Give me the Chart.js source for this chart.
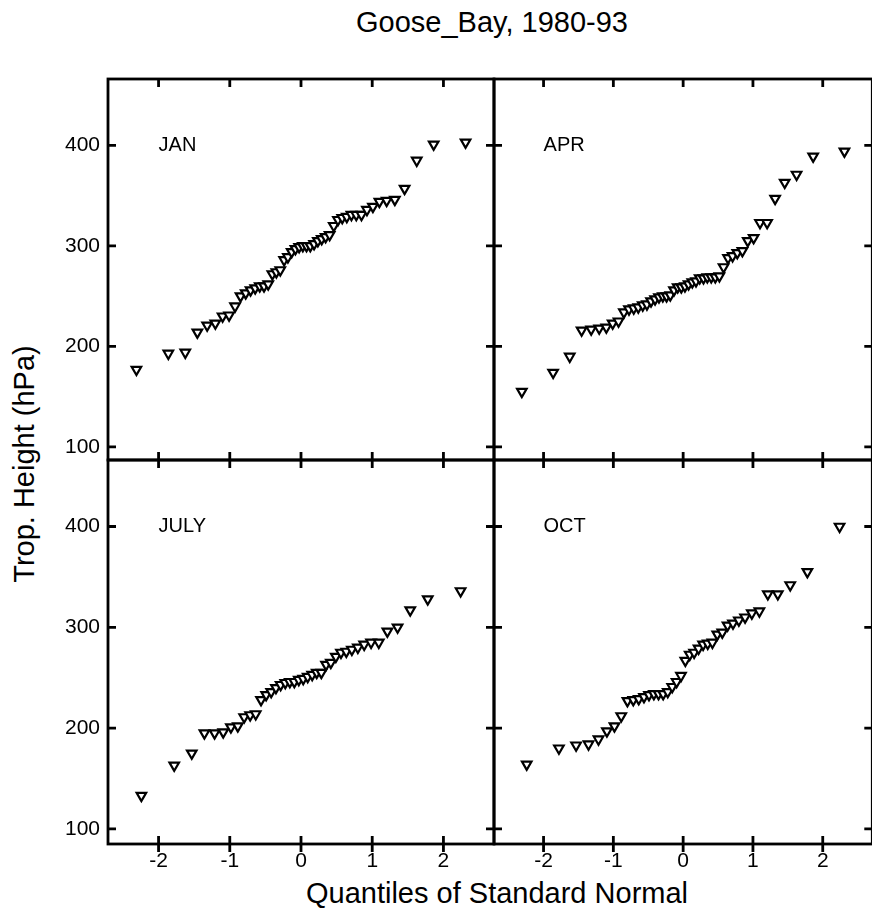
<!DOCTYPE html>
<html>
<head>
<meta charset="utf-8">
<script src="https://cdn.jsdelivr.net/npm/chart.js@4.4.0/dist/chart.umd.min.js"></script>
<style>
  html, body { margin: 0; padding: 0; background: #fff; }
  #page { position: relative; width: 872px; height: 908px; overflow: hidden;
          font-family: "Liberation Sans", Arial, sans-serif; color: #000; }
  canvas { position: absolute; }
  .title { position: absolute; white-space: nowrap; font-size: 29px;
           transform: translate(-50%, -50%); }
  #mainTitle { left: 492px; top: 22px; }
  #xTitle { left: 497px; top: 893px; }
  #yTitle { left: 24px; top: 464px; transform: translate(-50%, -50%) rotate(-90deg); }
</style>
</head>
<body>
<div id="page">
  <div class="title" id="mainTitle">Goose_Bay, 1980-93</div>
  <div class="title" id="xTitle">Quantiles of Standard Normal</div>
  <div class="title" id="yTitle">Trop. Height (hPa)</div>
  <canvas id="janChart" width="504" height="400" style="left:0;top:70px"></canvas>
  <canvas id="aprChart" width="396" height="400" style="left:484px;top:70px"></canvas>
  <canvas id="julChart" width="504" height="458" style="left:0;top:450px"></canvas>
  <canvas id="octChart" width="396" height="458" style="left:484px;top:450px"></canvas>
</div>
<script>
// normal quantiles on the x axis
const quantiles48 = [-2.311, -1.863, -1.625, -1.455, -1.318, -1.203, -1.101, -1.010, -0.926, -0.849,
    -0.776, -0.708, -0.643, -0.579, -0.519, -0.460, -0.402, -0.346, -0.291, -0.237, -0.184, -0.131,
    -0.078, -0.026, 0.026, 0.078, 0.131, 0.184, 0.237, 0.291, 0.346, 0.402, 0.460, 0.519, 0.579,
    0.643, 0.708, 0.776, 0.849, 0.926, 1.010, 1.101, 1.203, 1.318, 1.455, 1.625, 1.863, 2.311];
const quantiles40 = [-2.241, -1.780, -1.534, -1.356, -1.213, -1.092, -0.984, -0.887, -0.798, -0.714,
    -0.636, -0.561, -0.489, -0.419, -0.352, -0.286, -0.221, -0.157, -0.094, -0.031, 0.031, 0.094,
    0.157, 0.221, 0.286, 0.352, 0.419, 0.489, 0.561, 0.636, 0.714, 0.798, 0.887, 0.984, 1.092,
    1.213, 1.356, 1.534, 1.780, 2.241];

// tropopause heights (hPa)
const janHeights = [177, 193, 194, 214, 221, 223, 230, 231, 240, 250, 253, 256, 258, 260, 260, 262,
    272, 274, 276, 286, 289, 294, 297, 299, 300, 300, 300, 302, 305, 307, 309, 311, 320, 326, 328,
    329, 331, 331, 331, 336, 339, 344, 345, 346, 357, 385, 401, 403];
const aprHeights = [155, 174, 190, 216, 217, 218, 219, 223, 225, 234, 237, 238, 239, 241, 242, 245,
    247, 249, 250, 250, 251, 256, 259, 259, 260, 262, 264, 265, 268, 268, 269, 269, 269, 270, 279,
    288, 290, 293, 295, 305, 308, 323, 323, 347, 363, 371, 389, 394];
const julHeights = [133, 163, 175, 195, 195, 196, 201, 202, 211, 213, 214, 228, 233, 236, 240, 243,
    245, 246, 246, 248, 249, 251, 253, 255, 255, 263, 265, 271, 275, 276, 278, 280, 283, 285, 285,
    296, 300, 317, 328, 336];
const octHeights = [164, 180, 183, 184, 189, 197, 202, 212, 227, 228, 229, 231, 233, 234, 234, 234,
    236, 241, 246, 252, 267, 273, 275, 279, 283, 284, 285, 293, 295, 302, 304, 307, 310, 314, 316,
    333, 333, 342, 355, 400];

const xTickValues = [-2, -1, 0, 1, 2];
const yTickValues = [100, 200, 300, 400];

Chart.defaults.font.family = '"Liberation Sans", Arial, sans-serif';
Chart.defaults.color = '#000';

const FONT = "Liberation Sans";

// box, inward ticks and the month label
const framePlugin = {
    id: 'panelFrame',
    afterDraw(chart, args, opts) {
        const { ctx, chartArea: a, scales: { x, y } } = chart;
        ctx.save();
        ctx.strokeStyle = '#000';
        ctx.lineWidth = 2.8;
        ctx.strokeRect(a.left, a.top, a.right - a.left, a.bottom - a.top);
        ctx.beginPath();
        xTickValues.forEach(v => {
            const px = x.getPixelForValue(v);
            ctx.moveTo(px, a.top);
            ctx.lineTo(px, a.top + 8);
            ctx.moveTo(px, a.bottom - 8);
            ctx.lineTo(px, a.bottom + (opts.outerBottom ? 8 : 0));
        });
        yTickValues.forEach(v => {
            const py = y.getPixelForValue(v);
            ctx.moveTo(a.left, py);
            ctx.lineTo(a.left + 8, py);
            ctx.moveTo(a.right - 8, py);
            ctx.lineTo(a.right, py);
        });
        ctx.stroke();

        ctx.fillStyle = '#000';
        ctx.font = '20px "' + FONT + '"';
        ctx.textAlign = 'left';
        ctx.textBaseline = 'middle';
        ctx.fillText(opts.label, x.getPixelForValue(-2.0), y.getPixelForValue(400));
        ctx.restore();
    }
};

function makePanel(id, xs, ys, label, cfg) {
    const ctx = document.getElementById(id).getContext('2d');
    return new Chart(ctx, {
        type: 'scatter',
        data: {
            datasets: [{
                data: xs.map((x, i) => ({ x: x, y: ys[i] })),
                pointStyle: 'triangle',
                rotation: 180,
                radius: 5.5,
                borderWidth: 2.2,
                borderColor: '#000',
                backgroundColor: '#fff'
            }]
        },
        options: {
            responsive: false,
            animation: false,
            devicePixelRatio: 1,
            layout: { padding: cfg.padding },
            plugins: {
                legend: { display: false },
                tooltip: { enabled: false },
                panelFrame: { label: label, outerBottom: cfg.showX }
            },
            scales: {
                x: {
                    type: 'linear',
                    min: -2.71,
                    max: 2.71,
                    display: cfg.showX,
                    afterBuildTicks: s => { s.ticks = xTickValues.map(v => ({ value: v })); },
                    afterFit: s => {
                        s.height = cfg.showX ? 64 : 0;
                        s.paddingLeft = 0;
                        s.paddingRight = 0;
                    },
                    grid: { display: false, drawTicks: false },
                    border: { display: false },
                    ticks: { font: { size: 21 }, padding: 5, callback: v => String(v) }
                },
                y: {
                    type: 'linear',
                    min: cfg.yMin,
                    max: 466,
                    display: cfg.showY,
                    afterBuildTicks: s => { s.ticks = yTickValues.map(v => ({ value: v })); },
                    afterFit: s => {
                        s.width = cfg.showY ? 108 : 0;
                        s.paddingTop = 0;
                        s.paddingBottom = 0;
                    },
                    grid: { display: false, drawTicks: false },
                    border: { display: false },
                    ticks: { font: { size: 21 }, padding: 8, callback: v => String(v) }
                }
            }
        },
        plugins: [framePlugin]
    });
}

makePanel('janChart', quantiles48, janHeights, 'JAN',
    { showX: false, showY: true, yMin: 87, padding: { left: 0, top: 9, right: 10, bottom: 10 } });
makePanel('aprChart', quantiles48, aprHeights, 'APR',
    { showX: false, showY: false, yMin: 87, padding: { left: 10, top: 9, right: 0, bottom: 10 } });
makePanel('julChart', quantiles40, julHeights, 'JULY',
    { showX: true, showY: true, yMin: 85, padding: { left: 0, top: 10, right: 10, bottom: 0 } });
makePanel('octChart', quantiles40, octHeights, 'OCT',
    { showX: true, showY: false, yMin: 85, padding: { left: 10, top: 10, right: 0, bottom: 0 } });
</script>
</body>
</html>
